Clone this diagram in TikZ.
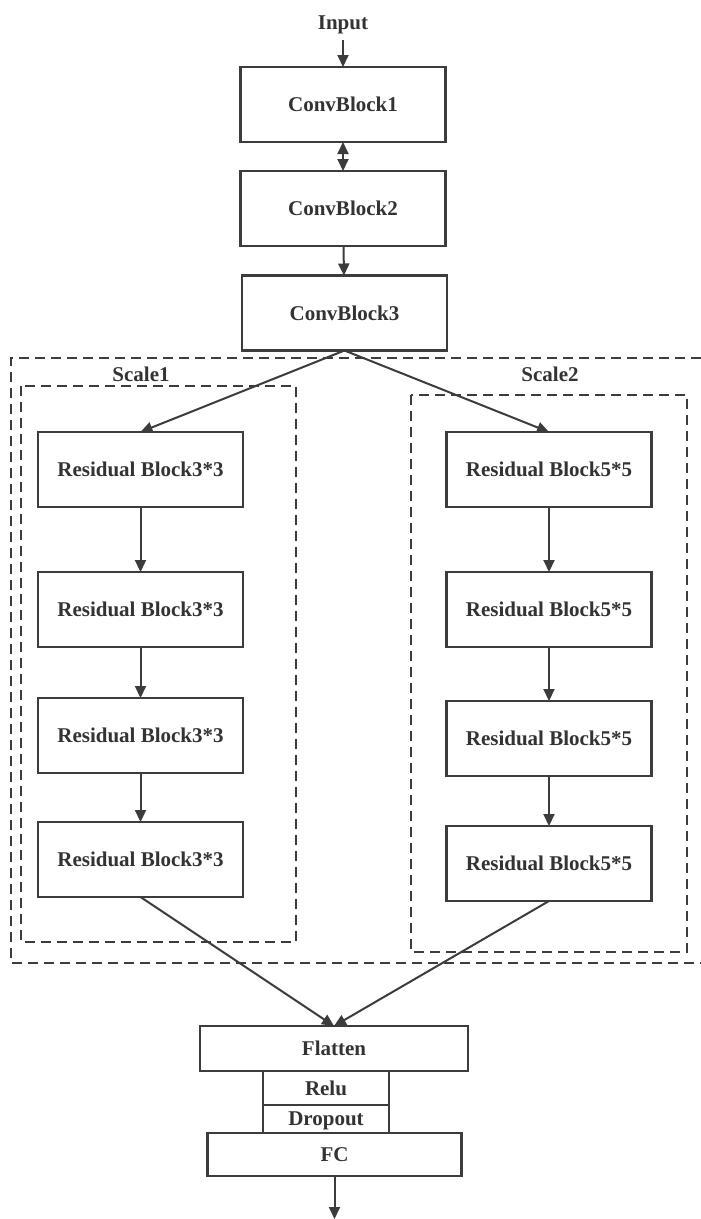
\documentclass[tikz,border=0pt]{standalone}
\usepackage{fontspec}
\setmainfont{Liberation Serif}
\usetikzlibrary{arrows.meta}
\definecolor{linegray}{HTML}{3C3C3C}
\definecolor{textgray}{HTML}{333333}

\begin{document}
\begin{tikzpicture}[x=1pt,y=-1pt,
  block/.style={draw=linegray,line width=2.2pt,fill=white,text=textgray,
    font=\fontsize{21}{25}\selectfont\bfseries,inner sep=0pt,outer sep=0pt,
    minimum width=205pt,minimum height=75pt},
  tag/.style={text=textgray,font=\fontsize{21}{25}\selectfont\bfseries,inner sep=0pt},
  flow/.style={draw=linegray,line width=2pt,-{Triangle[length=12pt,width=11pt]}},
  dashframe/.style={draw=linegray,line width=2pt,dash pattern=on 10pt off 6pt}]
\useasboundingbox (0,0) rectangle (701,1219);

	% dashed frames
	\draw[dashframe] (701,358) -- (11,358) -- (11,963) -- (701,963);
	\draw[dashframe] (21,386) rectangle (296,942);
	\draw[dashframe] (411,395) rectangle (687,952);

	\node[tag] (in) at (343,25) {Input};
	\node[block] (cb1) at (343,104.5) {ConvBlock1};
	\node[block] (cb2) at (343,208.5) {ConvBlock2};
	\node[block] (cb3) at (344.5,313) {ConvBlock3};

	\node[tag] (sc1) at (141,374) {Scale1};
	\node[tag] (sc2) at (550,374) {Scale2};

	\foreach \i/\y in {1/469.5,2/609.5,3/735.5,4/859.5}{
		\node[block] (l\i) at (140.5,\y) {Residual Block3*3};
	}
	\foreach \i/\y in {1/469.5,2/609.5,3/738.5,4/863.5}{
		\node[block] (r\i) at (549,\y) {Residual Block5*5};
	}
	\foreach \i/\j in {1/2,2/3,3/4}{
		\draw[flow] (l\i) -- (l\j);
		\draw[flow] (r\i) -- (r\j);
	}

	\draw[flow] ([yshift=-6pt]in.south) -- (cb1);
	\draw[flow,{Triangle[length=12pt,width=11pt]}-{Triangle[length=12pt,width=11pt]}] (cb1) -- (cb2);
	\draw[flow] (cb2) -- (cb3);
	\draw[flow] (cb3.south) -- (l1.north);
	\draw[flow] (cb3.south) -- (r1.north);

	% head
	\node[block,minimum width=268pt,minimum height=45pt] (flat) at (334,1048.5) {Flatten};
	\node[block,minimum width=126pt,minimum height=34pt] (relu) at (326,1088) {Relu};
	\node[block,minimum width=126pt,minimum height=28pt,text depth=0pt] (drop) at (326,1119) {Dropout};
	\node[block,minimum width=254pt,minimum height=43pt] (fc) at (334.5,1154.5) {FC};
	\coordinate (out) at (334.5,1219);

	\draw[flow] (l4.south) -- (flat.north);
	\draw[flow] (r4.south) -- (flat.north);
	\draw[flow] (fc) -- (out);

\end{tikzpicture}
\end{document}
